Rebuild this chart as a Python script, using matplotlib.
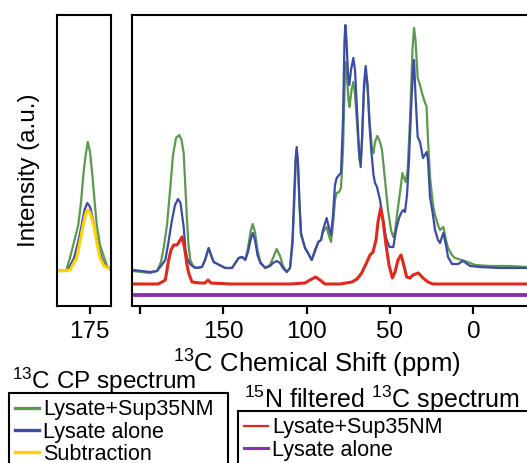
import numpy as np
import matplotlib
matplotlib.use("Agg")
import matplotlib.pyplot as plt
from matplotlib.lines import Line2D

plt.rcParams['font.family'] = ['Liberation Sans', 'DejaVu Sans']
plt.rcParams['mathtext.fontset'] = 'custom'
plt.rcParams['mathtext.rm'] = 'Liberation Sans'
plt.rcParams['mathtext.it'] = 'Liberation Sans:italic'
plt.rcParams['mathtext.bf'] = 'Liberation Sans:bold'

# ---------------- data (ppm, intensity a.u.) ----------------
cp_sup35 = [(204.2, 35), (194.0, 33), (189.8, 35), (187.4, 44), (185.6, 60), (183.8, 81),
            (181.8, 119), (180.2, 151), (178.4, 168), (176.4, 171), (175.1, 166), (173.8, 153),
            (172.7, 116), (171.8, 86), (170.9, 61), (169.8, 46), (168.2, 40), (165.8, 38),
            (162.8, 39), (161.0, 46), (158.8, 58), (157.4, 51), (155.8, 44), (152.4, 41),
            (148.8, 38), (144.8, 38), (142.4, 44), (140.8, 48), (138.8, 49), (136.8, 47),
            (135.2, 58), (133.7, 74), (132.4, 82), (131.0, 74), (129.5, 56), (127.8, 44),
            (124.8, 38), (122.0, 41), (120.2, 48), (118.0, 57), (116.0, 50), (114.2, 40),
            (112.0, 34), (110.0, 38), (108.5, 61), (107.6, 96), (106.7, 136), (106.0, 156),
            (105.2, 141), (104.3, 101), (103.4, 71), (101.0, 58), (99.2, 53), (97.0, 46),
            (95.0, 54), (93.0, 64), (91.4, 66), (90.2, 74), (88.0, 79), (86.6, 70),
            (85.4, 64), (84.2, 81), (83.0, 106), (82.0, 113), (80.6, 114), (79.4, 118),
            (78.2, 156), (77.3, 216), (76.8, 244), (76.1, 236), (74.9, 206), (74.3, 199),
            (73.1, 216), (72.0, 224), (71.0, 211), (69.5, 176), (68.3, 146), (67.6, 143),
            (66.8, 166), (65.6, 216), (64.6, 234), (63.5, 221), (62.3, 186), (60.8, 156),
            (59.9, 153), (59.0, 164), (57.6, 170), (56.0, 164), (54.8, 156), (53.0, 126),
            (51.2, 96), (49.4, 76), (48.0, 69), (47.0, 74), (45.8, 91), (44.6, 106),
            (43.4, 121), (42.6, 133), (41.6, 128), (40.6, 124), (39.4, 136), (38.0, 186),
            (36.5, 256), (35.6, 278), (34.7, 266), (33.4, 228), (32.0, 221), (30.8, 213),
            (29.0, 203), (28.1, 200), (27.2, 166), (26.0, 129), (24.2, 101), (23.0, 91),
            (21.2, 81), (20.0, 76), (18.0, 79), (16.4, 66), (15.2, 58), (12.8, 51),
            (11.0, 48), (5.0, 45), (-1.0, 41), (-10.0, 40), (-22.0, 40), (-32.2, 39),
            (-40.0, 39)]

cp_lysate = [(204.2, 36), (194.0, 34), (189.8, 35), (187.4, 40), (184.8, 46), (183.2, 61),
             (180.8, 86), (179.0, 101), (177.2, 107), (175.7, 103), (173.8, 79), (172.7, 56),
             (171.8, 48), (170.0, 42), (167.0, 38), (162.8, 39), (161.0, 46), (158.8, 58),
             (157.4, 51), (155.8, 44), (152.4, 41), (148.8, 38), (144.8, 38), (142.4, 44),
             (140.8, 48), (138.8, 49), (136.8, 46), (135.2, 54), (133.7, 66), (132.4, 73),
             (131.0, 66), (129.5, 51), (127.8, 43), (124.8, 38), (122.0, 40), (120.2, 43),
             (118.0, 45), (116.0, 43), (114.2, 38), (112.0, 34), (110.0, 38), (108.5, 66),
             (107.6, 106), (106.7, 146), (106.0, 159), (105.2, 143), (104.3, 103), (103.4, 73),
             (101.0, 58), (99.2, 53), (97.0, 46), (95.0, 56), (93.0, 64), (91.4, 66),
             (90.2, 76), (88.0, 88), (86.6, 78), (85.4, 71), (84.2, 91), (83.0, 121),
             (82.0, 128), (80.6, 131), (79.4, 133), (78.2, 186), (77.3, 266), (76.8, 281),
             (76.1, 266), (75.2, 231), (74.4, 221), (73.4, 236), (72.0, 248), (71.0, 236),
             (69.8, 196), (68.6, 156), (67.6, 139), (66.8, 166), (65.6, 221), (64.6, 240),
             (63.5, 221), (62.3, 181), (61.1, 153), (59.9, 131), (59.0, 123), (57.8, 119),
             (56.0, 106), (54.2, 86), (52.4, 68), (50.3, 59), (48.0, 59), (46.4, 76),
             (44.6, 88), (43.0, 94), (41.9, 96), (41.0, 94), (39.8, 111), (38.6, 146),
             (37.4, 196), (36.2, 236), (35.6, 246), (34.7, 211), (33.4, 169), (32.0, 164),
             (30.2, 148), (28.0, 154), (27.2, 146), (26.0, 109), (24.2, 91), (23.0, 76),
             (21.2, 66), (20.0, 63), (18.0, 73), (16.4, 61), (15.2, 49), (12.8, 42),
             (9.2, 42), (6.2, 45), (4.4, 43), (2.0, 40), (-4.0, 39), (-16.0, 38),
             (-32.2, 38), (-40.0, 38)]

nf_sup35 = [(204.2, 22), (194.0, 22), (189.2, 22), (186.8, 24), (184.8, 26), (182.8, 46),
            (181.4, 56), (179.8, 61), (177.8, 61), (176.6, 64), (174.8, 69), (173.6, 61),
            (172.8, 53), (171.8, 41), (170.8, 33), (168.8, 24), (164.0, 23), (161.0, 23),
            (159.2, 26), (157.4, 23), (146.0, 22), (128.0, 22), (110.0, 22), (101.0, 23),
            (98.0, 26), (94.6, 29), (92.0, 26), (89.0, 22), (80.0, 22), (72.8, 24),
            (69.8, 27), (67.0, 33), (64.4, 42), (62.0, 51), (60.2, 54), (58.4, 66),
            (57.2, 84), (55.6, 98), (54.2, 86), (52.4, 61), (50.6, 41), (48.6, 28),
            (47.0, 34), (45.2, 46), (43.4, 51), (42.2, 44), (40.0, 29), (38.0, 28),
            (36.2, 31), (33.0, 33), (30.2, 28), (27.2, 24), (24.2, 22), (14.0, 22),
            (-4.0, 22), (-32.2, 22), (-40.0, 22)]

nf_lysate = [(204.2, 11), (150.0, 11), (100.0, 11), (50.0, 11), (0.0, 11), (-40.0, 11)]

# carbonyl inset (left panel)
inset_sup35 = [(195.0, 35), (189.5, 35), (187.1, 48), (184.6, 64), (182.0, 81), (180.3, 104),
               (178.9, 131), (177.5, 151), (176.2, 164), (174.8, 154), (173.4, 131), (172.1, 106),
               (170.7, 81), (168.7, 61), (166.1, 48), (164.4, 40), (162.0, 37)]
inset_lysate = [(195.0, 35), (188.3, 36), (184.6, 48), (182.2, 63), (179.9, 81), (178.2, 96),
                (176.5, 103), (174.8, 99), (173.6, 91), (172.4, 81), (170.0, 61), (167.7, 48),
                (165.7, 40), (162.0, 36)]
inset_subtraction = [(195.0, 35), (187.1, 36), (183.0, 48), (181.0, 64), (179.0, 81), (177.4, 93),
                     (176.2, 96), (174.7, 93), (172.5, 81), (170.6, 63), (168.7, 48), (166.3, 40),
                     (162.0, 37)]

main_ticks = [200, 150, 100, 50, 0]
main_ticklabels = ['', '150', '100', '50', '0']
inset_ticks = [175]
inset_ticklabels = ['175']

labels_cp = ['Lysate+Sup35NM', 'Lysate alone', 'Subtraction']
labels_nf = ['Lysate+Sup35NM', 'Lysate alone']

# ---------------- style ----------------
C_GREEN = '#5b9a4e'
C_BLUE = '#3d4aa6'
C_YELLOW = '#ffd100'
C_RED = '#e0281c'
C_PURPLE = '#8b2fb0'

W, H = 527, 463
fig = plt.figure(figsize=(W / 100, H / 100), dpi=100)


def fx(px):
    return px / W


def fy(py):
    return 1 - py / H


ax_top, ax_bot = 15, 306
ax_l = fig.add_axes([fx(57), fy(ax_bot), fx(111) - fx(57), fy(ax_top) - fy(ax_bot)])
ax = fig.add_axes([fx(132), fy(ax_bot), fx(540) - fx(132), fy(ax_top) - fy(ax_bot)])


def xy(points):
    arr = np.array(points, dtype=float)
    return arr[:, 0], arr[:, 1]


lw = 1.6
kw = dict(solid_joinstyle='round', solid_capstyle='round')
ax.plot(*xy(cp_sup35), color=C_GREEN, lw=lw, **kw)
ax.plot(*xy(cp_lysate), color=C_BLUE, lw=lw, **kw)
ax.plot(*xy(nf_sup35), color=C_RED, lw=2.2, **kw)
ax.plot(*xy(nf_lysate), color=C_PURPLE, lw=2.8, **kw)

ax_l.plot(*xy(inset_sup35), color=C_GREEN, lw=lw, **kw)
ax_l.plot(*xy(inset_lysate), color=C_BLUE, lw=lw, **kw)
ax_l.plot(*xy(inset_subtraction), color=C_YELLOW, lw=2.2, **kw)

ax.set_xlim(204.8, -40)
ax_l.set_xlim(195, 162)
for a in (ax, ax_l):
    a.set_ylim(0, 291)
    a.set_yticks([])
    for s in a.spines.values():
        s.set_linewidth(1.5)
    a.tick_params(axis='x', direction='out', length=6, width=1.6, labelsize=17.5, pad=5)

ax.set_xticks(main_ticks)
ax.set_xticklabels(main_ticklabels)
ax_l.set_xticks(inset_ticks)
ax_l.set_xticklabels(inset_ticklabels)

fig.text(fx(29), fy(170), 'Intensity (a.u.)', rotation=90, ha='center', va='center', fontsize=17.5)
fig.text(fx(317), fy(364), r'$^{13}$C Chemical Shift (ppm)', ha='center', va='center', fontsize=18.5)

# legend titles
fig.text(fx(12), fy(381), r'$^{13}$C CP spectrum', ha='left', va='center', fontsize=17.5)
fig.text(fx(244), fy(399), r'$^{15}$N filtered $^{13}$C spectrum', ha='left', va='center', fontsize=18)

h_cp = [Line2D([], [], color=C_GREEN, lw=2.4), Line2D([], [], color=C_BLUE, lw=2.4),
        Line2D([], [], color=C_YELLOW, lw=2.4)]
h_nf = [Line2D([], [], color=C_RED, lw=1.6), Line2D([], [], color=C_PURPLE, lw=2.2)]

leg_kw = dict(loc='upper left', mode='expand', fancybox=False, framealpha=1, edgecolor='black',
              fontsize=15.5, handlelength=1.1, handletextpad=0.2, borderpad=0.3,
              labelspacing=0.06, borderaxespad=0)
leg1 = fig.legend(h_cp, labels_cp, bbox_to_anchor=(fx(9), fy(393), fx(228) - fx(9), 0.0001), **leg_kw)
leg1.get_frame().set_linewidth(1.5)
leg2 = fig.legend(h_nf, labels_nf, bbox_to_anchor=(fx(238), fy(411), fx(560) - fx(238), 0.0001), **leg_kw)
leg2.get_frame().set_linewidth(1.5)

fig.savefig('out.png', dpi=100)
